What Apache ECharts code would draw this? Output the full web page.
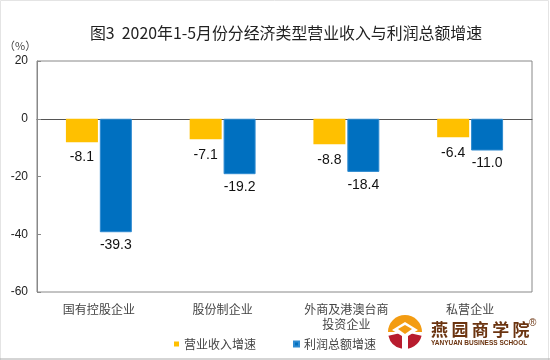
<!DOCTYPE html>
<html><head><meta charset="utf-8">
<style>html,body{margin:0;padding:0;background:#fff}#c{width:550px;height:360px}</style>
<script src="https://cdn.jsdelivr.net/npm/echarts@6/dist/echarts.min.js"></script></head>
<body><div id="c"></div>
<script>
const categories = ['国有控股企业','股份制企业','外商及港澳台商\n投资企业','私营企业'];
const revenueGrowth = [-8.1,-7.1,-8.8,-6.4];
const profitGrowth = [-39.3,-19.2,-18.4,-11.0];
const seriesNames = ['营业收入增速','利润总额增速'];
const font = '"Liberation Sans",Arial,"Noto Sans CJK SC",sans-serif';
const cjk = '"Noto Sans CJK SC",sans-serif';
const chart = echarts.init(document.getElementById('c'));
const lab = d => ({show:true,position:'bottom',distance:d,color:'#111',fontSize:14,fontFamily:font,
  formatter:p=>p.value.toFixed(1)});
const brown = '#6B3410';
chart.setOption({
  animation:false,
  backgroundColor:'#fff',
  title:{text:'图3  2020年1-5月份分经济类型营业收入与利润总额增速',left:281,top:20,textAlign:'center',
    textStyle:{fontSize:15.9,fontWeight:'normal',color:'#222',fontFamily:cjk}},
  legend:{data:seriesNames,left:174,top:338,padding:0,itemWidth:5,itemHeight:5,itemGap:37,icon:'rect',
    textStyle:{fontSize:12,color:'#444',fontFamily:cjk}},
  grid:{left:37,right:18,top:61,bottom:68,show:true,borderColor:'#888',borderWidth:1,backgroundColor:'transparent'},
  xAxis:{type:'category',data:categories,
    axisLine:{onZero:true,lineStyle:{color:'#555',width:1}},axisTick:{show:false},
    axisLabel:{show:false}},
  yAxis:{type:'value',min:-60,max:20,interval:20,
    axisLine:{show:true,lineStyle:{color:'#888',width:1}},
    axisTick:{show:true,inside:true,length:4,lineStyle:{color:'#888'}},
    splitLine:{show:false},
    axisLabel:{color:'#222',fontSize:12,margin:9,fontFamily:font}},
  series:[
    {name:seriesNames[0],type:'bar',data:revenueGrowth,barWidth:32,barGap:'6%',
     itemStyle:{color:'#FFC000'},label:lab(8.5)},
    {name:seriesNames[1],type:'bar',data:profitGrowth,barWidth:32,
     itemStyle:{color:'#0070C0',borderColor:'#2E8AD0',borderWidth:1},label:lab(6)}
  ],
  graphic:[
    {type:'rect',shape:{x:0.5,y:0.5,width:548,height:360},style:{fill:'none',stroke:'#e4e4e4',lineWidth:1},silent:true},
    {type:'line',shape:{x1:0,y1:359,x2:550,y2:359},style:{stroke:'#aaa',lineWidth:1},silent:true},
    {type:'text',left:4,top:40,style:{text:'（%）',fill:'#444',fontSize:11,fontFamily:cjk}},
    ...categories.map((c,i)=>({type:'text',x:37+123.75*(i+0.5),y:302,
      style:{text:c,fill:'#444',fontSize:12,lineHeight:15,align:'center',fontFamily:cjk}})),
    {type:'sector',shape:{cx:405,cy:332,r:17,r0:0,startAngle:Math.PI*1.0,endAngle:Math.PI*2},style:{fill:'#F39C12'}},
    {type:'sector',shape:{cx:405,cy:332,r:17,r0:0,startAngle:Math.PI*0.07,endAngle:Math.PI*0.93},style:{fill:'#B81C2E'}},
    {type:'polygon',shape:{points:[[392,330],[405,322],[418,330],[408,336],[408,349],[402,349],[402,336]]},style:{fill:'#fff'}},
    {type:'polygon',shape:{points:[[398,329],[405,325],[412,329],[405,334]]},style:{fill:'#F39C12'}},
    {type:'text',x:431,y:321,style:{text:'燕\u2009园\u2009商\u2009学\u2009院',fill:brown,fontSize:17,fontWeight:'bold',fontFamily:cjk}},
    {type:'text',x:431,y:339.5,style:{text:'YANYUAN BUSINESS SCHOOL',fill:brown,fontSize:6.5,fontWeight:'bold',fontFamily:font}},
    {type:'text',x:529,y:318,style:{text:'®',fill:brown,fontSize:10,fontFamily:font}}
  ]
});
</script></body></html>
